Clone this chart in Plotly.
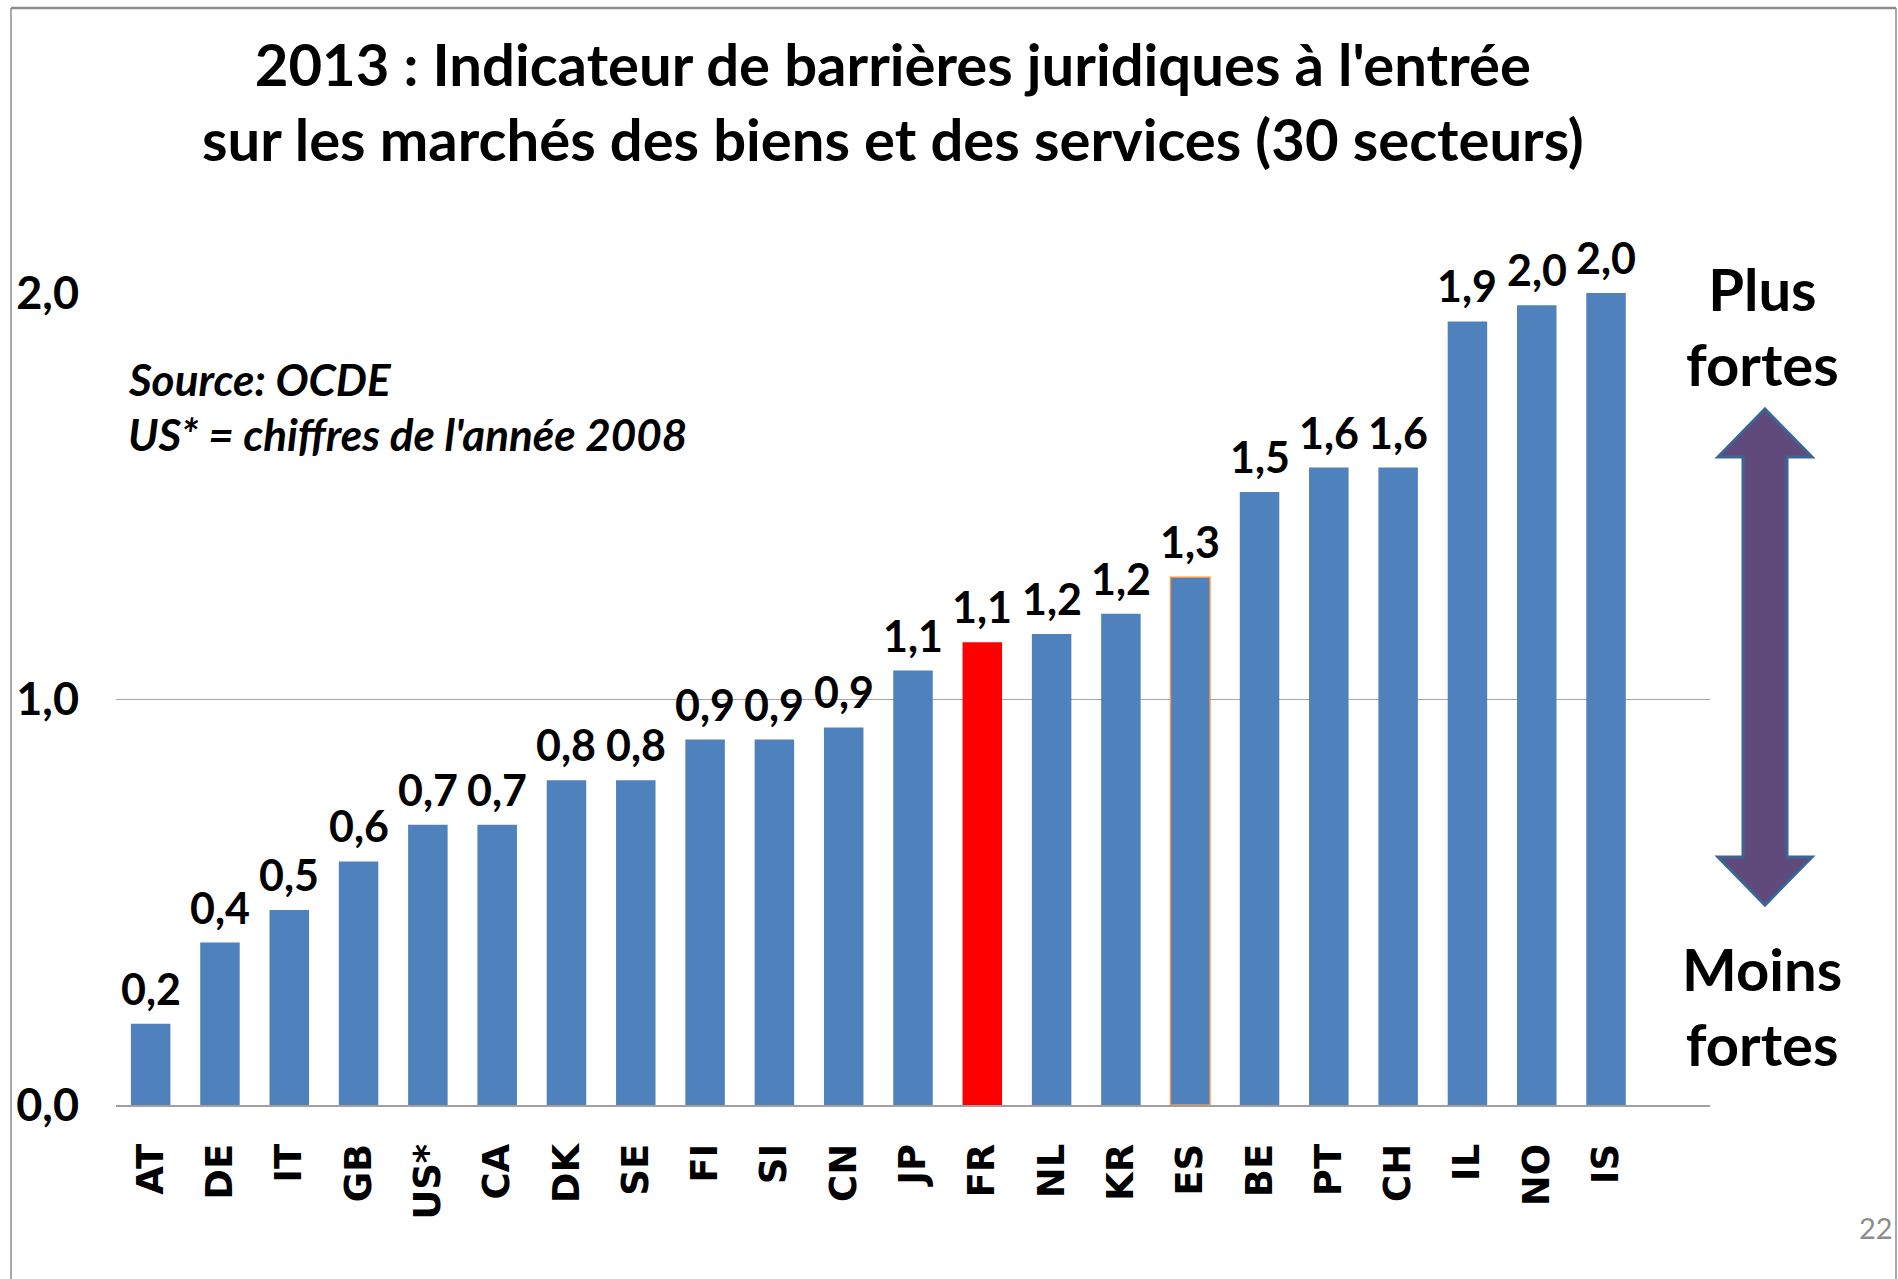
import plotly.graph_objects as go

# ---- data ----
countries = ["AT", "DE", "IT", "GB", "US*", "CA", "DK", "SE", "FI", "SI", "CN",
             "JP", "FR", "NL", "KR", "ES", "BE", "PT", "CH", "IL", "NO", "IS"]
values = [0.20, 0.40, 0.48, 0.60, 0.69, 0.69, 0.80, 0.80, 0.90, 0.90, 0.93,
          1.07, 1.14, 1.16, 1.21, 1.30, 1.51, 1.57, 1.57, 1.93, 1.97, 2.00]
y_tickvals = [0, 1, 2]
y_ticktext = ["0,0", "1,0", "2,0"]
highlight = "FR"
outlined = "ES"

title_text = ("2013 : Indicateur de barrières juridiques à l'entrée<br>"
              "sur les marchés des biens et des services (30 secteurs)")
note_lines = ["Source: OCDE", "US* = chiffres de l'année 2008"]

# ---- styling ----
W, H = 1898, 1279
ML, MR, MT, MB = 116, 188, 293, 174
BLUE = "#4F81BD"
RED = "#FF0000"
FONT = "Lato"

colors = [RED if c == highlight else BLUE for c in countries]
line_w = [1.5 if c == outlined else 0 for c in countries]
line_c = ["#F79646" if c == outlined else BLUE for c in countries]

pw = W - ML - MR
ph = H - MT - MB


def px(x):
    return (x - ML) / pw


def py(y):
    return (H - MB - y) / ph


def fmt(v):
    return f"{v:.1f}".replace(".", ",")


fig = go.Figure()
fig.add_trace(go.Bar(
    x=countries, y=values, width=0.57,
    marker=dict(color=colors, line=dict(color=line_c, width=line_w)),
    hoverinfo="skip",
))

fig.update_layout(
    width=W, height=H,
    margin=dict(l=ML, r=MR, t=MT, b=MB),
    paper_bgcolor="white", plot_bgcolor="white",
    separators=", ",
    showlegend=False,
    xaxis=dict(
        range=[-0.5, 22.5], tickangle=-90,
        tickfont=dict(family="DejaVu Sans", size=37, color="black", weight="bold"),
        showline=True, linecolor="#A0A0A0", linewidth=2,
        showgrid=False, ticks="", ticklabelstandoff=22,
    ),
    yaxis=dict(
        range=[0, 2], tickvals=y_tickvals, ticktext=y_ticktext,
        tickfont=dict(family=FONT, size=45, color="black", weight="bold"),
        showgrid=True, gridcolor="#A6A6A6", gridwidth=1,
        zeroline=False, showline=False, ticks="", ticklabelstandoff=36,
    ),
)

# value labels, placed at each bar's value through the axes
annotations = [
    dict(x=c, y=v, xref="x", yref="y", text=fmt(v), showarrow=False,
         xanchor="center", yanchor="bottom", yshift=8,
         font=dict(family=FONT, size=43, color="black", weight="bold"))
    for c, v in zip(countries, values)
]

annotations += [
    dict(text=title_text, xref="paper", yref="paper", x=px(893), y=py(27),
         xanchor="center", yanchor="top", showarrow=False,
         font=dict(family=FONT, size=58, color="black", weight="bold")),
    dict(text="<i>" + note_lines[0] + "</i>", xref="paper", yref="paper",
         x=px(126), y=py(379), xanchor="left", yanchor="middle", showarrow=False,
         font=dict(family=FONT, size=44, color="black", weight="bold")),
    dict(text="<i>" + note_lines[1] + "</i>", xref="paper", yref="paper",
         x=px(126), y=py(434), xanchor="left", yanchor="middle", showarrow=False,
         font=dict(family=FONT, size=44, color="black", weight="bold")),
    dict(text="Plus<br>fortes", xref="paper", yref="paper",
         x=px(1762), y=py(326), xanchor="center", yanchor="middle", showarrow=False,
         font=dict(family=FONT, size=58, color="black", weight="bold")),
    dict(text="Moins<br>fortes", xref="paper", yref="paper",
         x=px(1762), y=py(1006), xanchor="center", yanchor="middle", showarrow=False,
         font=dict(family=FONT, size=58, color="black", weight="bold")),
    dict(text="22", xref="paper", yref="paper",
         x=px(1876), y=py(1227), xanchor="center", yanchor="middle", showarrow=False,
         font=dict(family=FONT, size=29, color="#8C8C8C")),
]
fig.update_layout(annotations=annotations)

# double-headed arrow (decoration)
cx, top, bot = 1765, 409, 905
hh, hw, sw = 48, 47, 22
pts = [(cx, top), (cx + hw, top + hh), (cx + sw, top + hh), (cx + sw, bot - hh),
       (cx + hw, bot - hh), (cx, bot), (cx - hw, bot - hh), (cx - sw, bot - hh),
       (cx - sw, top + hh), (cx - hw, top + hh)]
path = "M " + " L ".join(f"{px(a):.5f},{py(b):.5f}" for a, b in pts) + " Z"
shapes = [
    dict(type="path", xref="paper", yref="paper", path=path,
         fillcolor="#604A7B", line=dict(color="#3C6496", width=3)),
    # slide frame
    dict(type="line", xref="paper", yref="paper", x0=px(11), x1=px(1896),
         y0=py(8), y1=py(8), line=dict(color="#8C8C8C", width=2.5)),
    dict(type="line", xref="paper", yref="paper", x0=px(11), x1=px(11),
         y0=py(8), y1=py(1279), line=dict(color="#8C8C8C", width=1.5)),
    dict(type="line", xref="paper", yref="paper", x0=px(1896), x1=px(1896),
         y0=py(8), y1=py(1279), line=dict(color="#8C8C8C", width=1.5)),
]
fig.update_layout(shapes=shapes)

fig.write_html("out.html",
               config={"displayModeBar": False},
               post_script="document.body.style.margin='0px';"
                           "document.body.style.overflow='hidden';")
